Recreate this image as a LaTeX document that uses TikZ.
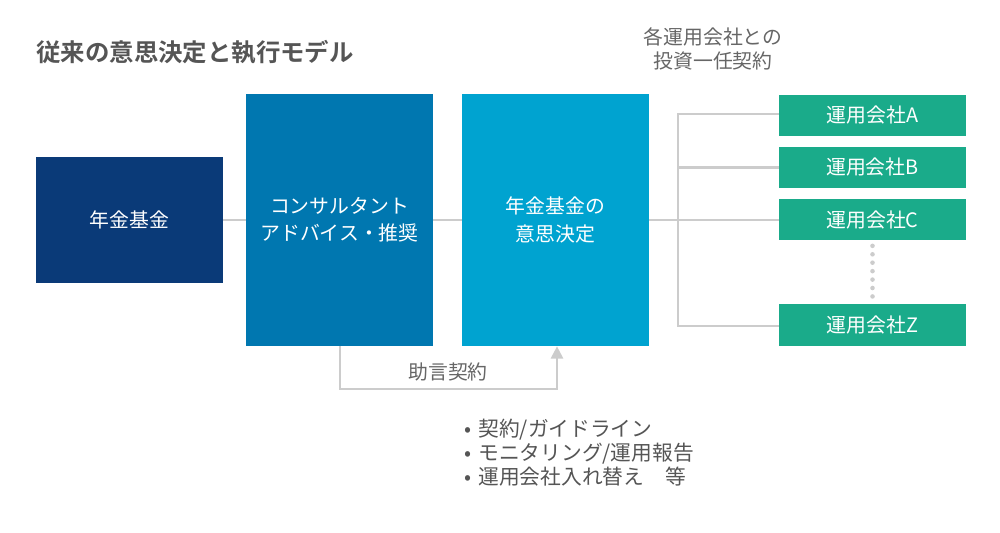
\documentclass[tikz,border=0pt]{standalone}
\usepackage{fontspec}
\setmainfont{Noto Sans CJK JP}
\newfontfamily\jpbold{Noto Sans CJK JP Bold}
\usetikzlibrary{arrows.meta,calc}
\definecolor{navy}{HTML}{0A3A78}
\definecolor{midblue}{HTML}{0077B0}
\definecolor{lightblue}{HTML}{00A3D0}
\definecolor{teal}{HTML}{1AAB8A}
\definecolor{linegray}{HTML}{CCCCCC}
\definecolor{textgray}{HTML}{666666}
\definecolor{titlegray}{HTML}{555555}
\newcommand{\bul}{•\hspace{4pt}}
\tikzset{
  box/.style={draw=none, inner sep=0pt, align=center, text=white, font=\fontsize{11.3pt}{15.5pt}\selectfont},
  conn/.style={draw=linegray, line width=1.2pt},
  lbl/.style={text=textgray, font=\fontsize{11.3pt}{13.3pt}\selectfont, inner sep=0pt, align=center},
}
\begin{document}
\begin{tikzpicture}[x=0.02cm,y=-0.02cm]
\useasboundingbox (0,0) rectangle (1000,533);
\node[anchor=west, text=titlegray, font=\jpbold\fontsize{13.9pt}{16pt}\selectfont, inner sep=0pt] (title) at (36,52) {従来の意思決定と執行モデル};
% boxes
\node[box, fill=navy, minimum width=187*0.02cm, minimum height=126*0.02cm] (fund) at (129.5,220) {年金基金};
\node[box, fill=midblue, minimum width=187*0.02cm, minimum height=252*0.02cm] (cons) at (339.5,220) {コンサルタント\\アドバイス・推奨};
\node[box, fill=lightblue, minimum width=187*0.02cm, minimum height=252*0.02cm] (dec) at (555.5,220) {年金基金の\\意思決定};
\node[box, fill=teal, minimum width=187*0.02cm, minimum height=41*0.02cm] (A) at (872.5,115.5) {運用会社A};
\node[box, fill=teal, minimum width=187*0.02cm, minimum height=41*0.02cm] (B) at (872.5,167.5) {運用会社B};
\node[box, fill=teal, minimum width=187*0.02cm, minimum height=41*0.02cm] (C) at (872.5,220) {運用会社C};
\node[box, fill=teal, minimum width=187*0.02cm, minimum height=41*0.02cm] (Z) at (872.5,325) {運用会社Z};
% connectors
\draw[conn] (fund.east) -- (cons.west);
\draw[conn] (cons.east) -- (dec.west);
\coordinate (hub) at (678,220);
\draw[conn] (dec.east) -- (hub);
\draw[conn] (A.west |- 0,114) -| (hub) |- (Z.west |- 0,326);
\draw[conn] (B.west) -- (B.west -| hub);
\draw[conn] (C.west) -- (hub);
\draw[draw=linegray, line width=2.6pt, line cap=round, dash pattern=on 0pt off 4.8pt] ($(C.south)+(0,5)$) -- ($(Z.north)+(0,-4)$);
% advice contract
\coordinate (ad1) at (340,389);
\coordinate (ad2) at (557,389);
\draw[conn, -{Triangle[length=7pt,width=7pt]}] (cons.south -| ad1) -- (ad1) -- (ad2) -- (dec.south -| ad2);
\node[lbl] (adv) at (448,372) {助言契約};
% top label
\node[lbl] (top) at (713,49) {各運用会社との\\投資一任契約};
% bullets
\node[lbl, anchor=north west, align=left, text=titlegray, font=\fontsize{11.8pt}{13.6pt}\selectfont] (bullets) at (464,419) {\bul 契約/ガイドライン\\\bul モニタリング/運用報告\\\bul 運用会社入れ替え\quad 等};
\end{tikzpicture}
\end{document}
